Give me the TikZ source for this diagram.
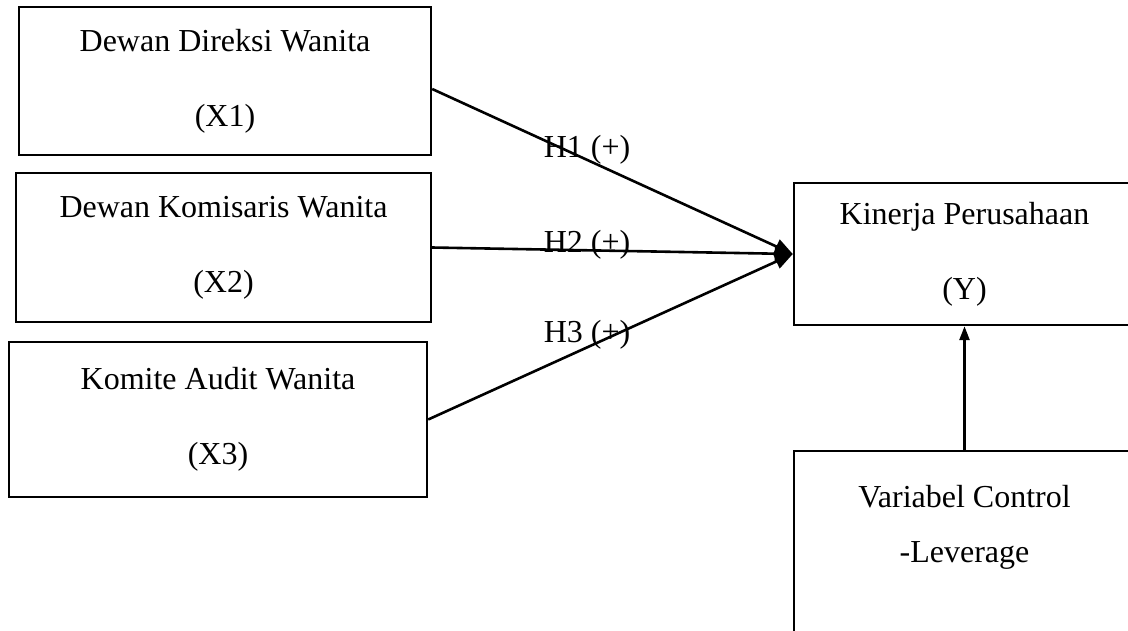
\documentclass[tikz,border=0pt]{standalone}
\usepackage{fontspec}
\setmainfont{Liberation Serif}
\usetikzlibrary{arrows.meta}

\begin{document}
\begin{tikzpicture}[x=1pt, y=-1pt,
  box/.style = {rectangle, draw, line width=2.4pt, align=center, font=\fontsize{32}{38}\selectfont},
  hyp/.style = {inner sep=0pt, align=center, font=\fontsize{32}{38}\selectfont},
  link/.style = {line width=2.6pt, -{Triangle[length=18pt, width=15pt]}}]

\useasboundingbox (0,0) rectangle (1128,630);
\clip (0,0) rectangle (1128,630);

\node[box, minimum width=412, minimum height=148] (x1) at (225,81) {Dewan Direksi Wanita\\[37pt](X1)};
\node[box, minimum width=415, minimum height=149] (x2) at (223.5,247.5) {Dewan Komisaris Wanita\\[37pt](X2)};
\node[box, minimum width=418, minimum height=155] (x3) at (218,419.5) {Komite Audit Wanita\\[37pt](X3)};

\node[box, minimum width=341, minimum height=142] (y) at (964.5,254) {Kinerja Perusahaan\\[37pt](Y)};

\node[box, minimum width=341, minimum height=250, anchor=north] (ctrl) at (964.5,450) {};
\node[hyp] (ctrltxt) at (964.5,527) {Variabel Control\\[17pt]-Leverage};

\node[hyp] (h1) at (587,150) {H1 (+)};
\node[hyp] (h2) at (587,245) {H2 (+)};
\node[hyp] (h3) at (587,335) {H3 (+)};

\draw[link] ([yshift=-8pt]x1.east) -- (y.west);
\draw[link] (x2.east) -- (y.west);
\draw[link] (x3.east) -- (y.west);

\draw[line width=2.6pt, -{Triangle[length=14pt, width=10pt]}] (ctrl.north) -- (y.south);

\end{tikzpicture}
\end{document}
